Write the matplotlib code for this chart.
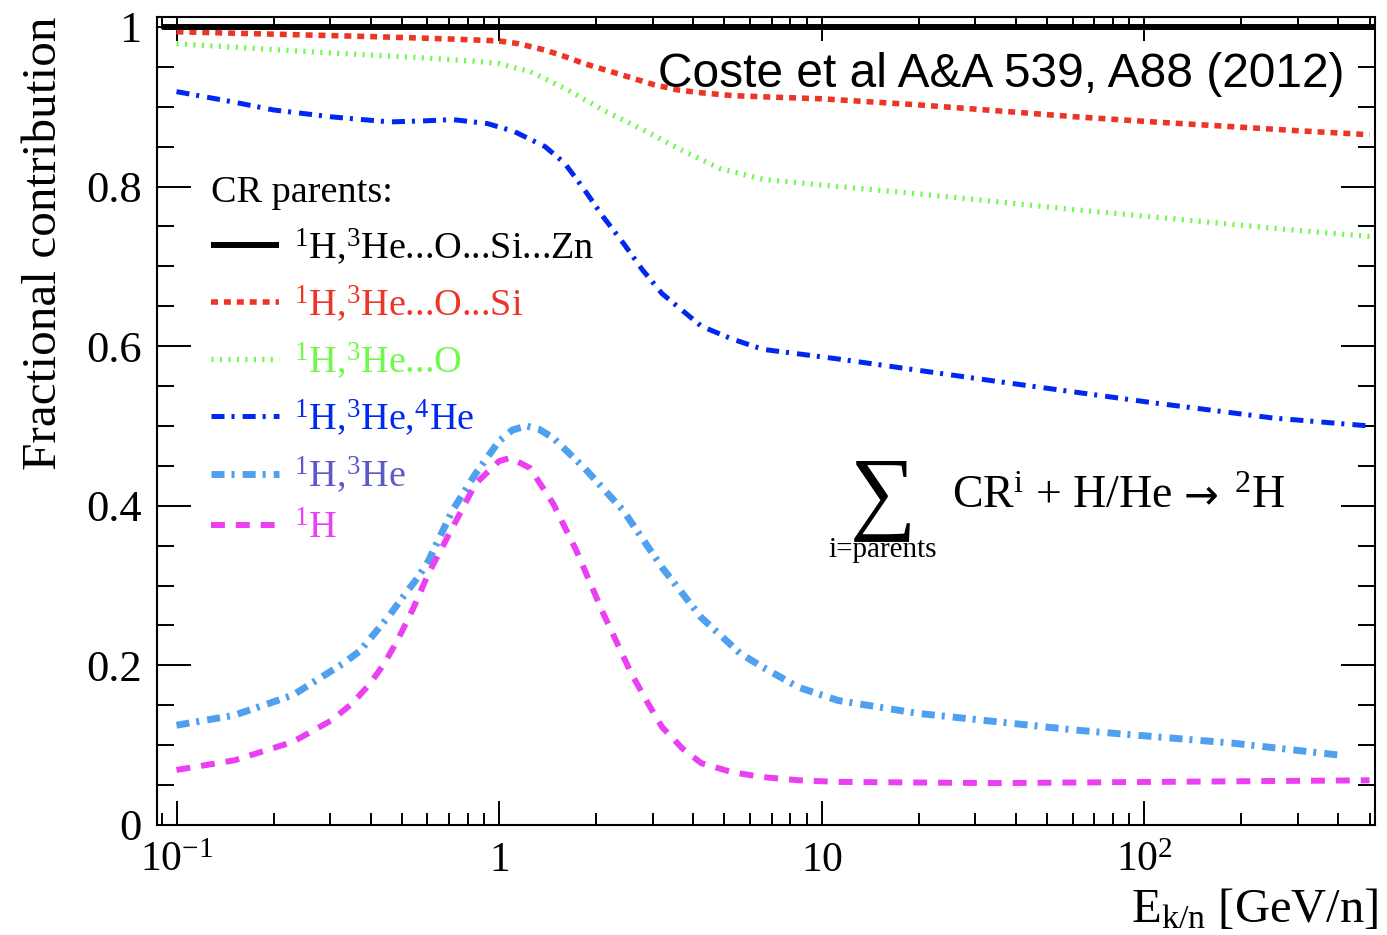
import matplotlib
matplotlib.use('Agg')
import matplotlib.pyplot as plt
from matplotlib.ticker import FixedLocator, FixedFormatter, LogLocator, MultipleLocator, NullFormatter

# ---------------- data ----------------
E_all = [0.09, 520]
f_all = [1.0, 1.0]

E_osi = [0.1, 0.2, 0.4, 0.7, 1.0, 1.15, 1.39, 1.6, 1.84, 2.4, 3.03, 3.6, 4.24, 5.3, 6.59,
         10, 19.8, 35, 61, 107, 189, 300, 500]
f_osi = [0.994, 0.991, 0.988, 0.985, 0.9825, 0.979, 0.971, 0.963, 0.954, 0.940, 0.9275, 0.921,
         0.9175, 0.914, 0.9125, 0.910, 0.9025, 0.895, 0.8875, 0.881, 0.875, 0.870, 0.865]

E_o = [0.1, 0.3, 0.6, 0.85, 1.0, 1.25, 1.6, 2.1, 2.8, 3.67, 4.85, 6.59, 10, 19.8, 35, 61,
       107, 189, 300, 500]
f_o = [0.979, 0.9675, 0.961, 0.957, 0.954, 0.944, 0.923, 0.896, 0.871, 0.846, 0.8225, 0.809,
       0.802, 0.791, 0.781, 0.771, 0.762, 0.7525, 0.745, 0.7375]

E_he4 = [0.1, 0.15, 0.2, 0.3, 0.457, 0.6, 0.717, 0.92, 1.115, 1.39, 1.6, 1.84, 2.1, 2.43,
         2.78, 3.2, 3.67, 4.24, 5.28, 6.59, 11.26, 34.8, 107, 251, 500]
f_he4 = [0.919, 0.906, 0.896, 0.8875, 0.881, 0.8825, 0.884, 0.879, 0.869, 0.85, 0.829, 0.796,
         0.7625, 0.729, 0.696, 0.666, 0.646, 0.625, 0.609, 0.596, 0.584, 0.556, 0.529, 0.51, 0.5]

E_he3 = [0.1, 0.151, 0.229, 0.329, 0.37, 0.411, 0.46, 0.5125, 0.56, 0.604, 0.717, 0.845, 1.0,
         1.1, 1.215, 1.33, 1.473, 1.838, 2.428, 3.206, 4.236, 5.595, 6.59, 8.49, 11.26, 19.8,
         61, 189, 405]
f_he3 = [0.125, 0.1375, 0.1625, 0.2025, 0.218, 0.24, 0.264, 0.29, 0.31, 0.331, 0.394, 0.44,
         0.481, 0.495, 0.5, 0.496, 0.485, 0.4475, 0.394, 0.3225, 0.26, 0.215, 0.1975, 0.1725,
         0.156, 0.14, 0.119, 0.1025, 0.0875]

E_h = [0.1, 0.151, 0.229, 0.302, 0.35, 0.399, 0.44, 0.484, 0.54, 0.604, 0.717, 0.845, 1.0,
       1.084, 1.246, 1.473, 1.736, 2.105, 2.57, 2.9, 3.206, 3.7, 4.236, 5.3, 6.59, 8.5, 11.26,
       34.8, 107, 500]
f_h = [0.069, 0.081, 0.104, 0.131, 0.152, 0.1775, 0.202, 0.231, 0.27, 0.315, 0.3725, 0.4275,
       0.456, 0.46, 0.4475, 0.4025, 0.344, 0.265, 0.19, 0.152, 0.1225, 0.096, 0.0775, 0.066,
       0.06, 0.056, 0.054, 0.0525, 0.054, 0.056]

series_labels = [r"$^{1}$H,$^{3}$He...O...Si...Zn",
                 r"$^{1}$H,$^{3}$He...O...Si",
                 r"$^{1}$H,$^{3}$He...O",
                 r"$^{1}$H,$^{3}$He,$^{4}$He",
                 r"$^{1}$H,$^{3}$He",
                 r"$^{1}$H"]

x_major = [0.1, 1, 10, 100]
x_major_labels = [r"$\mathrm{10^{-1}}$", r"$\mathrm{1}$", r"$\mathrm{10}$", r"$\mathrm{10^{2}}$"]
y_major = [0, 0.2, 0.4, 0.6, 0.8, 1.0]
y_major_labels = ["0", "0.2", "0.4", "0.6", "0.8", "1"]

# ---------------- style ----------------
plt.rcParams['font.family'] = ['Liberation Serif', 'DejaVu Serif']
plt.rcParams['mathtext.fontset'] = 'custom'
plt.rcParams['mathtext.rm'] = 'Liberation Serif'
plt.rcParams['mathtext.it'] = 'Liberation Serif:italic'
plt.rcParams['mathtext.bf'] = 'Liberation Serif:bold'
plt.rcParams['lines.scale_dashes'] = False

c_black = 'black'
c_red = '#ec3526'
c_green = '#72f84a'
c_blue = '#0028f0'
c_lblue = '#50a0f0'
c_mag = '#ea3ff2'
c_slate = '#5a5ac8'

W, H = 1387, 935
fig = plt.figure(figsize=(W / 100, H / 100), dpi=100)
L, R, T, B = 157, 1375, 17, 825
ax = fig.add_axes([L / W, 1 - B / H, (R - L) / W, (B - T) / H])

def ax_x(px):
    return (px - L) / (R - L)

def ax_y(py):
    return (B - py) / (B - T)

dash_dot = (9.4, 5.0, 2.2, 5.8)
l_all, = ax.plot(E_all, f_all, color=c_black, lw=4.3, solid_capstyle='butt', zorder=5)
l_osi, = ax.plot(E_osi, f_osi, color=c_red, lw=4.0, dashes=(5.0, 4.3), dash_capstyle='butt')
l_o, = ax.plot(E_o, f_o, color=c_green, lw=3.8, dashes=(1.5, 4.6), dash_capstyle='butt')
l_he4, = ax.plot(E_he4, f_he4, color=c_blue, lw=3.6, dashes=dash_dot, dash_capstyle='butt')
l_he3, = ax.plot(E_he3, f_he3, color=c_lblue, lw=5.0, dashes=dash_dot, dash_capstyle='butt')
l_h, = ax.plot(E_h, f_h, color=c_mag, lw=4.3, dashes=(10.0, 7.9), dash_capstyle='butt')

ax.set_xscale('log')
ax.set_xlim(0.087, 520)
ax.set_ylim(0, 1.0125)

ax.xaxis.set_major_locator(FixedLocator(x_major))
ax.xaxis.set_major_formatter(FixedFormatter(x_major_labels))
ax.xaxis.set_minor_locator(LogLocator(base=10, subs=[2, 3, 4, 5, 6, 7, 8, 9], numticks=20))
ax.xaxis.set_minor_formatter(NullFormatter())
ax.yaxis.set_major_locator(FixedLocator(y_major))
ax.yaxis.set_major_formatter(FixedFormatter(y_major_labels))
ax.yaxis.set_minor_locator(MultipleLocator(0.05))

for s in ax.spines.values():
    s.set_linewidth(1.5)

ax.tick_params(which='both', direction='in', top=True, right=True, width=1.4)
ax.tick_params(axis='x', which='major', length=17, pad=33, labelsize=30)
ax.tick_params(axis='x', which='minor', length=8.6)
ax.tick_params(axis='y', which='major', length=24.5, pad=11, labelsize=32)
ax.tick_params(axis='y', which='minor', length=12)
for t in ax.xaxis.get_major_ticks():
    t.label1.set_verticalalignment('baseline')

ax.set_ylabel("Fractional contribution", fontsize=35.5, loc='top')
ax.yaxis.set_label_coords(ax_x(66), 1.0)
ax.set_xlabel(r"E$_{\mathrm{k/n}}$ [GeV/n]", fontsize=35, loc='right')
ax.xaxis.set_label_coords(1.003, ax_y(887))

leg = ax.legend([l_all, l_osi, l_o, l_he4, l_he3, l_h], series_labels,
                loc='upper left', bbox_to_anchor=(ax_x(211), ax_y(175)),
                frameon=False, title='CR parents:', alignment='left',
                fontsize=27.5, title_fontsize=27.5, handlelength=1.78, handletextpad=0.39,
                labelspacing=0.43, borderpad=0, borderaxespad=0)
for txt, col in zip(leg.get_texts(), [c_black, c_red, c_green, c_blue, c_slate, c_mag]):
    txt.set_color(col)

ax.text(ax_x(1345), ax_y(87), "Coste et al A&A 539, A88 (2012)",
        transform=ax.transAxes, ha='right', va='baseline', fontsize=34.5,
        family=['Liberation Sans', 'DejaVu Sans'])

# reaction formula
ax.text(ax_x(883), ax_y(521), "\u2211", transform=ax.transAxes,
        ha='center', va='baseline', fontsize=67, family=['Liberation Serif', 'DejaVu Serif'])
ax.text(ax_x(883), ax_y(557), "i=parents", transform=ax.transAxes,
        ha='center', va='baseline', fontsize=21)
ax.text(ax_x(952), ax_y(508), "CR$^{\\mathrm{i}}$ + H/He",
        transform=ax.transAxes, ha='left', va='baseline', fontsize=33)
ax.text(ax_x(1201), ax_y(508), "\u2192", transform=ax.transAxes, ha='center',
        va='baseline', fontsize=30, family=['DejaVu Sans'])
ax.text(ax_x(1234), ax_y(508), "$^{2}$H",
        transform=ax.transAxes, ha='left', va='baseline', fontsize=33)

fig.savefig('out.png', dpi=100)
